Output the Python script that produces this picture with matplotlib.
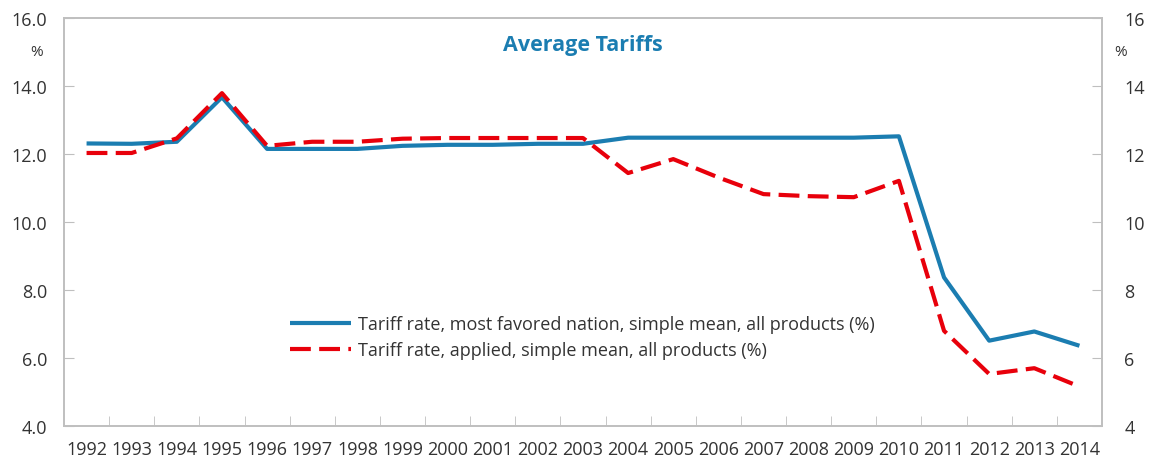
import matplotlib
matplotlib.use('Agg')
import matplotlib.pyplot as plt
import numpy as np

plt.rcParams['font.family'] = ['Open Sans', 'DejaVu Sans']

years = [str(y) for y in range(1992, 2015)]
mfn_rate = [12.31, 12.30, 12.36, 13.67, 12.15, 12.15, 12.15, 12.24, 12.27, 12.27,
            12.30, 12.30, 12.48, 12.48, 12.48, 12.48, 12.48, 12.48, 12.52, 8.37,
            6.51, 6.78, 6.36]
applied_rate = [12.03, 12.03, 12.46, 13.79, 12.24, 12.36, 12.36, 12.45, 12.47, 12.47,
                12.47, 12.47, 11.44, 11.85, 11.31, 10.82, 10.76, 10.73, 11.21, 6.80,
                5.53, 5.70, 5.16]
labels = ['Tariff rate, most favored nation, simple mean, all products (%)',
          'Tariff rate, applied, simple mean, all products (%)']

blue = '#1b7db1'
red = '#e8000b'
grey = '#bfbfbf'
txt = '#333333'

fig = plt.figure(figsize=(11.51, 4.60), dpi=100)
ax = fig.add_axes([64/1151, 1 - 427/460, (1102-64)/1151, (427-19)/460])

x = np.arange(len(years))
ax.plot(x, mfn_rate, color=blue, lw=3.0, label=labels[0], solid_capstyle='butt')
ax.plot(x, applied_rate, color=red, lw=3.0, ls=(0, (5, 2)), label=labels[1])

ax.set_xlim(-0.5, len(years) - 0.5)
ax.set_ylim(4, 16)
ax.set_yticks(np.arange(4, 17, 2))
ax.set_yticklabels([f'{v:.1f}' for v in np.arange(4, 17, 2)])
ax.set_xticks(x)
ax.set_xticklabels(years)
ax.set_xticks(x[:-1] + 0.5, minor=True)
ax.tick_params(axis='x', which='major', length=0, labelsize=13, colors=txt, pad=10)
ax.tick_params(axis='x', which='minor', direction='in', length=7, color=grey)
ax.tick_params(axis='y', direction='in', length=7, color=grey, labelsize=13,
               labelcolor=txt, pad=12)
for s in ax.spines.values():
    s.set_color(grey)
    s.set_linewidth(1.2)

ax2 = ax.twinx()
ax2.set_ylim(4, 16)
ax2.set_yticks(np.arange(4, 17, 2))
ax2.set_yticklabels([f'{v:d}' for v in range(4, 17, 2)])
ax2.tick_params(axis='y', direction='in', length=7, color=grey, labelsize=13,
                labelcolor=txt, pad=16)
for s in ax2.spines.values():
    s.set_color(grey)
    s.set_linewidth(1.2)

fig.text(37/1151, 1 - 52/460, '%', fontsize=11, color=txt, ha='center', va='center')
fig.text(1121/1151, 1 - 52/460, '%', fontsize=11, color=txt, ha='center', va='center')

ax.text(0.5, 0.935, 'Average Tariffs', transform=ax.transAxes, ha='center', va='center',
        fontsize=15.5, fontweight='bold', color=blue)

leg = ax.legend(loc='center left', bbox_to_anchor=((290-64)/1038, (427-338)/408),
                frameon=False, fontsize=13, handlelength=3.4, handletextpad=0.35,
                labelspacing=0.45, borderpad=0, borderaxespad=0)
for t in leg.get_texts():
    t.set_color(txt)

fig.savefig('out.png', dpi=100)
